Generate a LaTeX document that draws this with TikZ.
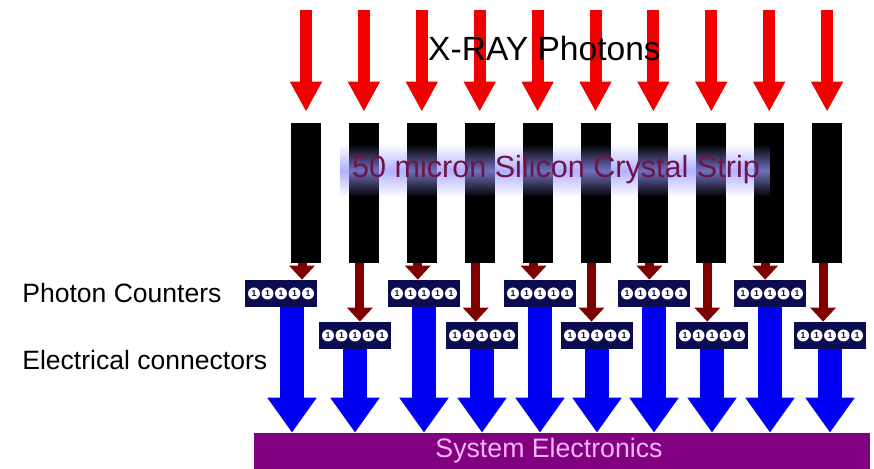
\documentclass[tikz,border=0pt]{standalone}
\usepackage{fontspec}
\setmainfont{Liberation Sans}
\usepackage{tikz}
\usetikzlibrary{arrows.meta,positioning,fadings}
\definecolor{rayred}{RGB}{240,0,0}
\definecolor{hitred}{RGB}{128,0,0}
\definecolor{wireblue}{RGB}{0,0,245}
\definecolor{countnavy}{RGB}{12,12,80}
\definecolor{sysviolet}{RGB}{128,0,128}
\definecolor{syspink}{RGB}{250,180,250}
\definecolor{stripink}{RGB}{110,20,70}
\definecolor{glowblue}{RGB}{150,150,255}
\tikzfading[name=glowfade, top color=transparent!100, bottom color=transparent!100, middle color=transparent!25]

\begin{document}
\begin{tikzpicture}[
    striprect/.style={fill=black, minimum width=.6cm, minimum height=2.8cm, inner sep=0},
    countbox/.style={fill=countnavy, minimum width=1.44cm, minimum height=.54cm, inner sep=0},
    bitdot/.style={circle, fill=white, minimum size=.24cm, inner sep=0, text=countnavy, font=\fontsize{5}{5}\selectfont\bfseries},
    rayarrow/.style={rayred, line width=.24cm, -{Triangle[length=.6cm, width=.6cm]}},
    hitarrow/.style={hitred, line width=.18cm, -{Triangle[length=.28cm, width=.5cm]}},
    wirearrow/.style={wireblue, line width=.48cm, -{Triangle[length=.7cm, width=.94cm]}},
    sidelbl/.style={font=\fontsize{15.1}{18}\selectfont, inner sep=0, anchor=west}]
    \useasboundingbox (0,0) rectangle (17.48,9.38);
    % strips and incoming photons
    \foreach \i in {1,...,10} {
      \node[striprect] (s\i) at ({6.12+1.158*(\i-1)},5.52) {};
      \coordinate (r\i) at ({6.12+1.158*(\i-1)},9.18);
      \draw[rayarrow] (r\i) -- ([yshift=.22cm]s\i.north);
    }
    \node[font=\fontsize{19.1}{22}\selectfont, inner sep=0] (xray) at (10.89,8.40) {X-RAY Photons};
    \fill[glowblue, path fading=glowfade] (6.8,5.44) rectangle (15.4,6.5);
    \node[font=\fontsize{17.4}{20}\selectfont, text=stripink, inner sep=0] (striplbl) at (11.12,5.98)
      {50 micron Silicon Crystal Strip};
    % counters
    \node[fill=sysviolet, minimum width=12.32cm, minimum height=.72cm, inner sep=0] (sysbar) at (11.24,.36) {};
    \node[font=\fontsize{15.2}{18}\selectfont, text=syspink, inner sep=0] (syslbl) at (10.98,.36) {System Electronics};
    \foreach \i/\cx/\cy/\ax in {1/5.62/3.51/.22, 2/7.10/2.67/0, 3/8.48/3.51/0, 4/9.64/2.67/0, 5/10.80/3.51/0,
        6/11.94/2.67/0, 7/13.08/3.51/0, 8/14.24/2.67/0, 9/15.40/3.51/0, 10/16.60/2.67/0} {
      \node[countbox] (c\i) at (\cx,\cy) {};
      \foreach \k in {1,...,5}
        \node[bitdot] (b\i-\k) at ([xshift={(\k-3)*.27cm}]c\i.center) {1};
      \draw[hitarrow] ([xshift=-.08cm]s\i.south) -- ([xshift=-.08cm]s\i.south |- c\i.north);
      \draw[wirearrow] ([xshift=\ax cm]c\i.south) -- ([xshift=\ax cm]c\i.south |- sysbar.north);
    }
    \node[sidelbl] (cntlbl) at (.44,3.52) {Photon Counters};
    \node[sidelbl] (conlbl) at (.44,2.18) {Electrical connectors};
  \end{tikzpicture}
\end{document}
